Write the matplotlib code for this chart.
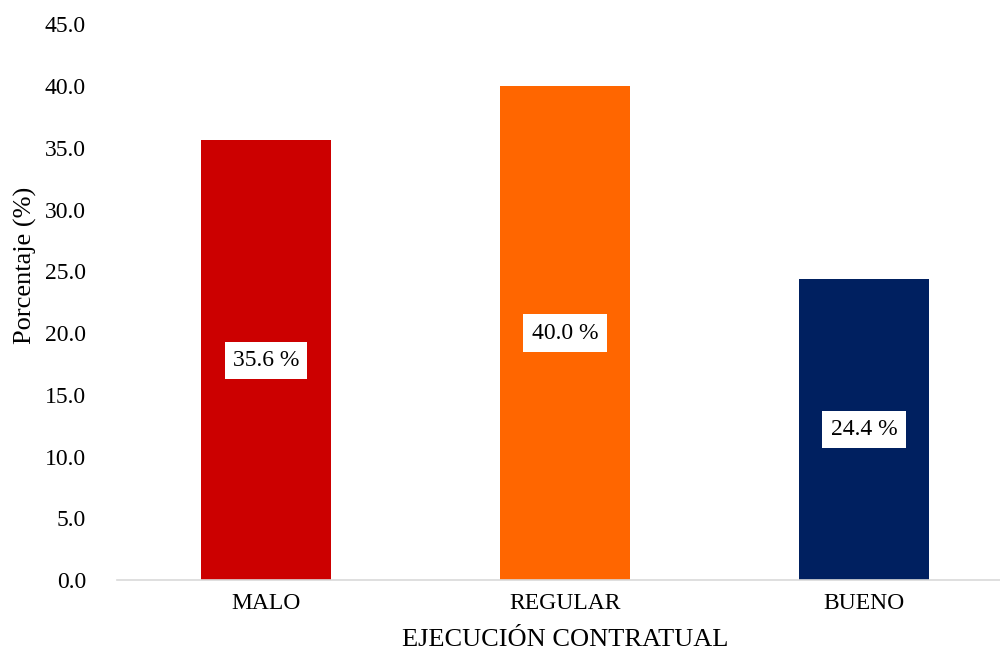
import matplotlib.pyplot as plt

# Data
categorias = ['MALO', 'REGULAR', 'BUENO']
porcentajes = [35.6, 40.0, 24.4]
colores = ['#CC0000', '#FF6600', '#002060']
yticks = [0, 5, 10, 15, 20, 25, 30, 35, 40, 45]

plt.rcParams['font.family'] = ['Liberation Serif', 'DejaVu Serif']

fig = plt.figure(figsize=(10, 6.57), dpi=100)
ax = fig.add_axes([0.1165, 0.117, 0.897, 0.846])

x = range(len(categorias))
ax.bar(x, porcentajes, width=0.435, color=colores, zorder=2)

for xi, v in zip(x, porcentajes):
    ax.text(xi, v / 2, f'{v:.1f} %', ha='center', va='center', fontsize=17,
            bbox=dict(facecolor='white', edgecolor='none', pad=6), zorder=3)

ax.set_xlim(-0.5, 2.5)
ax.set_ylim(0, 45)
ax.set_yticks(yticks)
ax.set_yticklabels([f'{t:.1f}' for t in yticks], fontsize=17)
ax.set_xticks(list(x))
ax.set_xticklabels(categorias, fontsize=17)
ax.tick_params(axis='x', length=0, pad=9)
ax.tick_params(axis='y', length=0, pad=22)

for s in ['top', 'right', 'left']:
    ax.spines[s].set_visible(False)
ax.spines['bottom'].set_color('#D9D9D9')
ax.spines['bottom'].set_linewidth(1.2)

# y label sits a bit above the axis centre in the original
fig.text(0.025, 1 - 265 / 657, 'Porcentaje (%)', rotation=90, fontsize=19,
         ha='center', va='center')
ax.set_xlabel('EJECUCIÓN CONTRATUAL', fontsize=19, labelpad=11)

fig.savefig('out.png', dpi=100)
